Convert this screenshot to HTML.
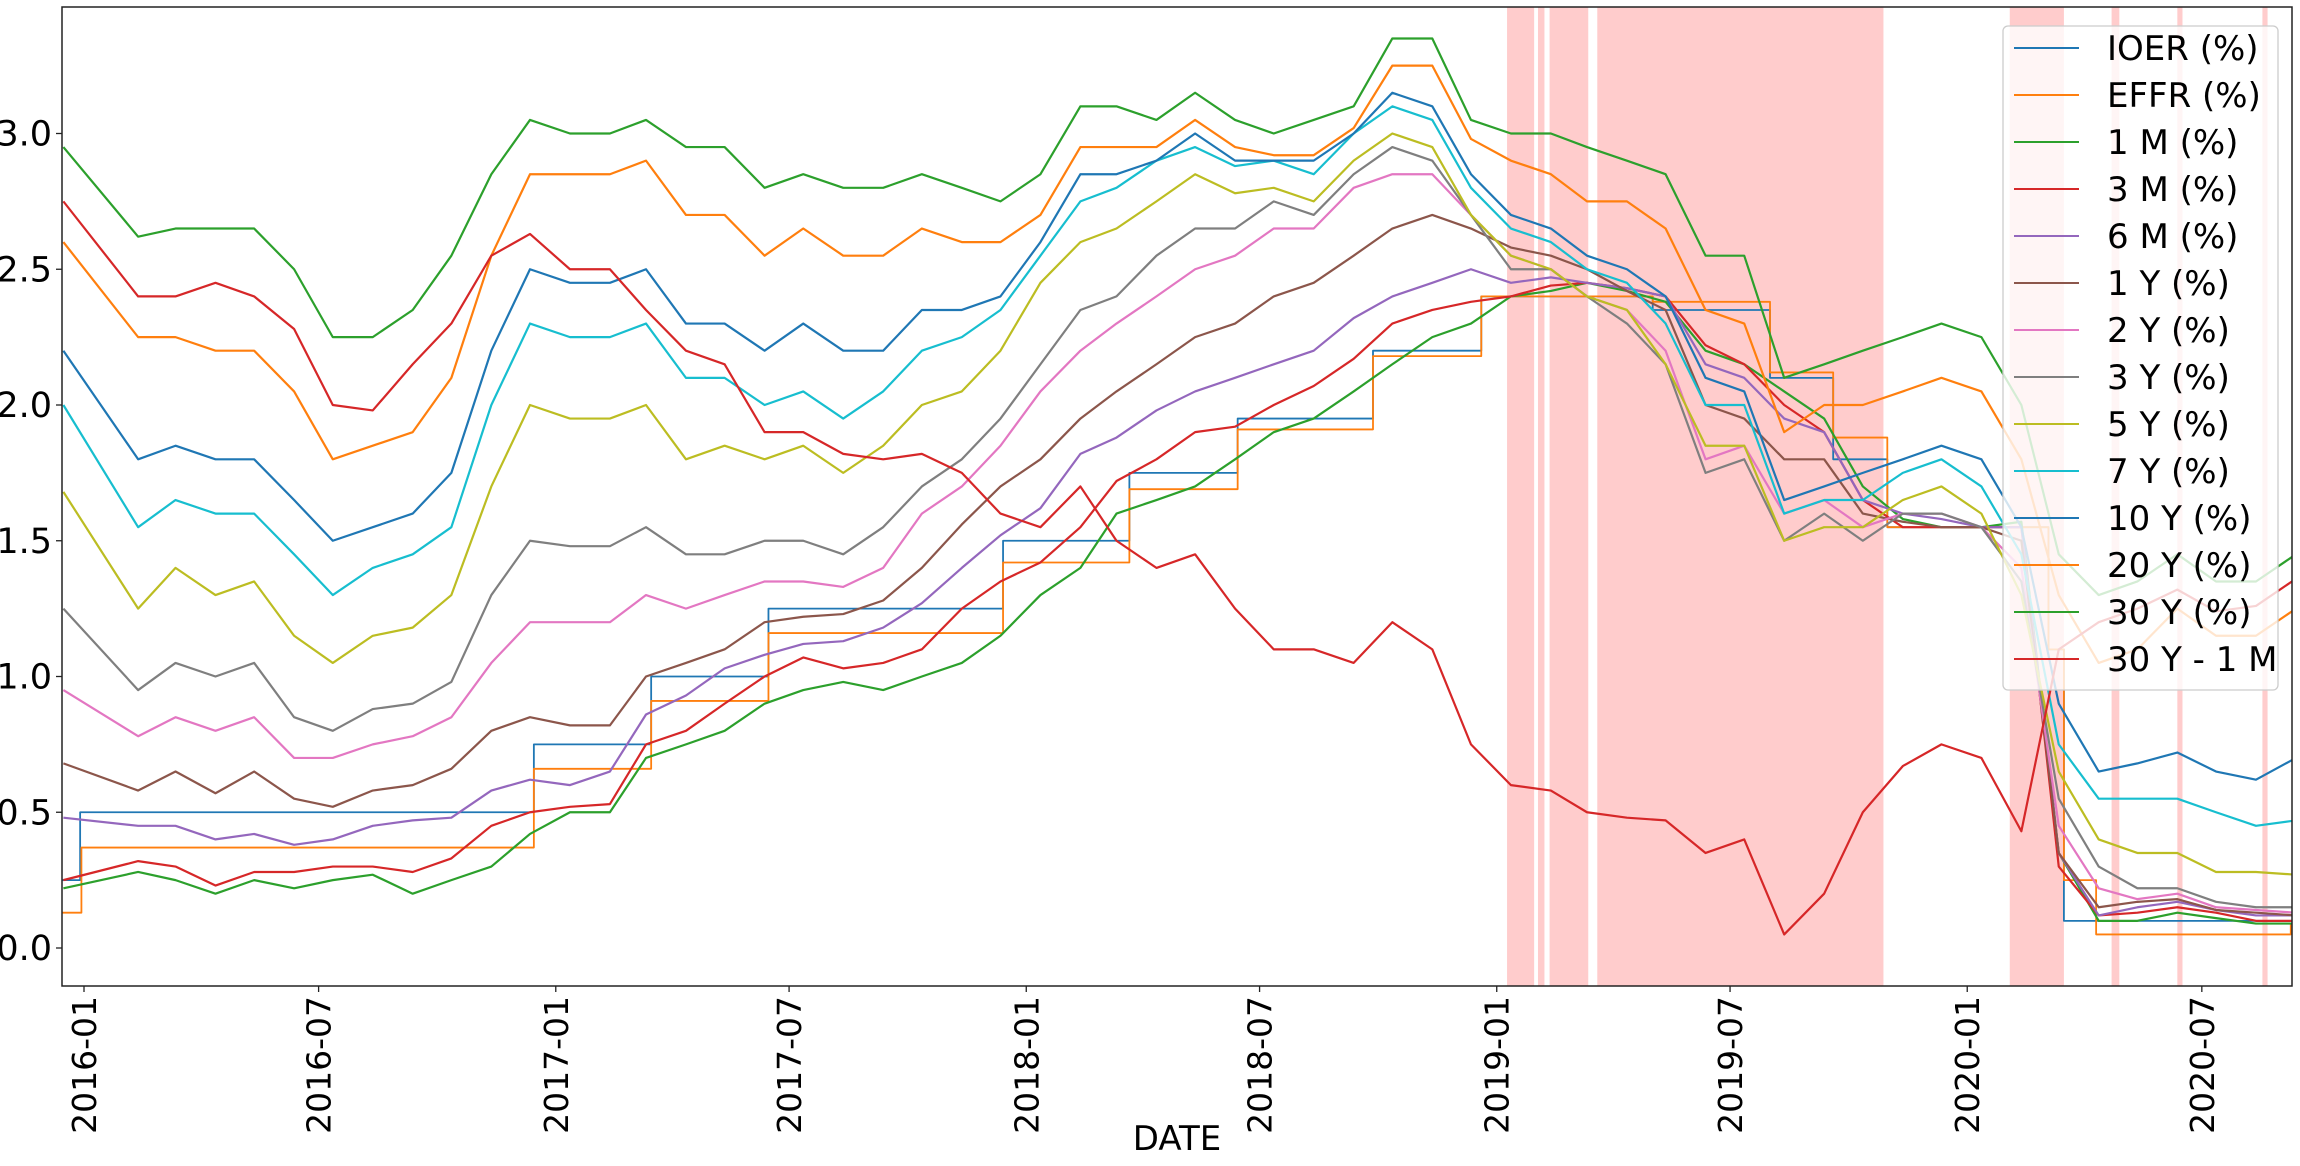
<!DOCTYPE html>
<html><head><meta charset="utf-8">
<style>
html,body{margin:0;padding:0;background:#fff;}
svg{display:block;font-family:"DejaVu Sans","Liberation Sans",sans-serif;}
</style></head>
<body>
<svg id="chart" width="2300" height="1166" viewBox="0 0 2300 1166" xmlns="http://www.w3.org/2000/svg"></svg>
<script>
// ---- data ----
const monthDates = [];
for (let y = 2016; y <= 2020; y++) for (let m = 1; m <= 12; m++) { if (y === 2020 && m > 9) break; monthDates.push(y + '-' + String(m).padStart(2,'0') + '-12'); }
monthDates[0] = "2015-12-16";
const seriesNames = ["IOER (%)","EFFR (%)","1 M (%)","3 M (%)","6 M (%)","1 Y (%)","2 Y (%)","3 Y (%)","5 Y (%)","7 Y (%)","10 Y (%)","20 Y (%)","30 Y (%)","30 Y - 1 M"];
const seriesColors = ["#1f77b4","#ff7f0e","#2ca02c","#d62728","#9467bd","#8c564b","#e377c2","#7f7f7f","#bcbd22","#17becf","#1f77b4","#ff7f0e","#2ca02c","#d62728"];
const ioerDates = ["2015-12-14","2015-12-29","2016-12-15","2017-03-16","2017-06-15","2017-12-14","2018-03-22","2018-06-14","2018-09-27","2018-12-20","2019-05-02","2019-08-01","2019-09-19","2019-10-31","2020-03-04","2020-03-16","2020-09-08"];
const ioerValues = [0.25,0.50,0.75,1.00,1.25,1.50,1.75,1.95,2.20,2.40,2.35,2.10,1.80,1.55,1.10,0.10,0.10];
const effrDates = ["2015-12-14","2015-12-30","2016-12-15","2017-03-16","2017-06-15","2017-12-14","2018-03-22","2018-06-14","2018-09-27","2018-12-20","2019-05-02","2019-08-01","2019-09-19","2019-10-31","2020-03-04","2020-03-16","2020-04-10","2020-09-08"];
const effrValues = [0.13,0.37,0.66,0.91,1.16,1.42,1.69,1.91,2.18,2.40,2.38,2.12,1.88,1.55,1.10,0.25,0.05,0.09];
const m1 = [.22,.28,.25,.20,.25,.22,.25,.27,.20,.25,.30,.42, .50,.50,.70,.75,.80,.90,.95,.98,.95,1.0,1.05,1.15, 1.30,1.40,1.60,1.65,1.70,1.80,1.90,1.95,2.05,2.15,2.25,2.30, 2.40,2.42,2.45,2.42,2.38,2.20,2.15,2.05,1.95,1.70,1.58,1.55, 1.55,1.57,0.35,0.10,0.10,0.13,0.11,0.09,0.09];
const m3 = [.25,.32,.30,.23,.28,.28,.30,.30,.28,.33,.45,.50, .52,.53,.75,.80,.90,1.0,1.07,1.03,1.05,1.10,1.25,1.35, 1.42,1.55,1.72,1.80,1.90,1.92,2.00,2.07,2.17,2.30,2.35,2.38, 2.40,2.44,2.45,2.43,2.40,2.22,2.15,2.00,1.90,1.65,1.55,1.55, 1.55,1.55,0.30,0.12,0.13,0.15,0.13,0.10,0.10];
const m6 = [.48,.45,.45,.40,.42,.38,.40,.45,.47,.48,.58,.62, .60,.65,.86,.93,1.03,1.08,1.12,1.13,1.18,1.27,1.40,1.52, 1.62,1.82,1.88,1.98,2.05,2.10,2.15,2.20,2.32,2.40,2.45,2.50, 2.45,2.47,2.45,2.43,2.40,2.15,2.10,1.95,1.90,1.65,1.60,1.58, 1.55,1.55,0.35,0.12,0.15,0.17,0.14,0.12,0.12];
const y1 = [.68,.58,.65,.57,.65,.55,.52,.58,.60,.66,.80,.85, .82,.82,1.00,1.05,1.10,1.20,1.22,1.23,1.28,1.40,1.56,1.70, 1.80,1.95,2.05,2.15,2.25,2.30,2.40,2.45,2.55,2.65,2.70,2.65, 2.58,2.55,2.50,2.42,2.35,2.00,1.95,1.80,1.80,1.60,1.57,1.55, 1.55,1.50,0.35,0.15,0.17,0.18,0.14,0.13,0.12];
const y2 = [.95,.78,.85,.80,.85,.70,.70,.75,.78,.85,1.05,1.20, 1.20,1.20,1.30,1.25,1.30,1.35,1.35,1.33,1.40,1.60,1.70,1.85, 2.05,2.20,2.30,2.40,2.50,2.55,2.65,2.65,2.80,2.85,2.85,2.70, 2.55,2.50,2.40,2.35,2.20,1.80,1.85,1.60,1.65,1.55,1.60,1.60, 1.55,1.40,0.45,0.22,0.18,0.20,0.15,0.14,0.13];
const y3 = [1.25,.95,1.05,1.00,1.05,.85,.80,.88,.90,.98,1.30,1.50, 1.48,1.48,1.55,1.45,1.45,1.50,1.50,1.45,1.55,1.70,1.80,1.95, 2.15,2.35,2.40,2.55,2.65,2.65,2.75,2.70,2.85,2.95,2.90,2.70, 2.50,2.50,2.40,2.30,2.15,1.75,1.80,1.50,1.60,1.50,1.60,1.60, 1.55,1.35,0.55,0.30,0.22,0.22,0.17,0.15,0.15];
const y5 = [1.68,1.25,1.40,1.30,1.35,1.15,1.05,1.15,1.18,1.30,1.70,2.00, 1.95,1.95,2.00,1.80,1.85,1.80,1.85,1.75,1.85,2.00,2.05,2.20, 2.45,2.60,2.65,2.75,2.85,2.78,2.80,2.75,2.90,3.00,2.95,2.70, 2.55,2.50,2.40,2.35,2.15,1.85,1.85,1.50,1.55,1.55,1.65,1.70, 1.60,1.30,0.65,0.40,0.35,0.35,0.28,0.28,0.27];
const y7 = [2.00,1.55,1.65,1.60,1.60,1.45,1.30,1.40,1.45,1.55,2.00,2.30, 2.25,2.25,2.30,2.10,2.10,2.00,2.05,1.95,2.05,2.20,2.25,2.35, 2.55,2.75,2.80,2.90,2.95,2.88,2.90,2.85,3.00,3.10,3.05,2.80, 2.65,2.60,2.50,2.45,2.30,2.00,2.00,1.60,1.65,1.65,1.75,1.80, 1.70,1.45,0.75,0.55,0.55,0.55,0.50,0.45,0.47];
const y10 = [2.20,1.80,1.85,1.80,1.80,1.65,1.50,1.55,1.60,1.75,2.20,2.50, 2.45,2.45,2.50,2.30,2.30,2.20,2.30,2.20,2.20,2.35,2.35,2.40, 2.60,2.85,2.85,2.90,3.00,2.90,2.90,2.90,3.00,3.15,3.10,2.85, 2.70,2.65,2.55,2.50,2.40,2.10,2.05,1.65,1.70,1.75,1.80,1.85, 1.80,1.55,0.90,0.65,0.68,0.72,0.65,0.62,0.70];
const y20 = [2.60,2.25,2.25,2.20,2.20,2.05,1.80,1.85,1.90,2.10,2.55,2.85, 2.85,2.85,2.90,2.70,2.70,2.55,2.65,2.55,2.55,2.65,2.60,2.60, 2.70,2.95,2.95,2.95,3.05,2.95,2.92,2.92,3.02,3.25,3.25,2.98, 2.90,2.85,2.75,2.75,2.65,2.35,2.30,1.90,2.00,2.00,2.05,2.10, 2.05,1.80,1.30,1.05,1.10,1.25,1.15,1.15,1.25];
const y30 = [2.95,2.62,2.65,2.65,2.65,2.50,2.25,2.25,2.35,2.55,2.85,3.05, 3.00,3.00,3.05,2.95,2.95,2.80,2.85,2.80,2.80,2.85,2.80,2.75, 2.85,3.10,3.10,3.05,3.15,3.05,3.00,3.05,3.10,3.35,3.35,3.05, 3.00,3.00,2.95,2.90,2.85,2.55,2.55,2.10,2.15,2.20,2.25,2.30, 2.25,2.00,1.45,1.30,1.35,1.45,1.35,1.35,1.45];
const spread = [2.75,2.40,2.40,2.45,2.40,2.28,2.00,1.98,2.15,2.30,2.55,2.63, 2.50,2.50,2.35,2.20,2.15,1.90,1.90,1.82,1.80,1.82,1.75,1.60, 1.55,1.70,1.50,1.40,1.45,1.25,1.10,1.10,1.05,1.20,1.10,0.75, 0.60,0.58,0.50,0.48,0.47,0.35,0.40,0.05,0.20,0.50,0.67,0.75, 0.70,0.43,1.10,1.20,1.25,1.32,1.24,1.26,1.36];
const shadeStarts = ["2019-01-09","2019-02-02","2019-02-11","2019-03-20","2020-02-03","2020-04-22","2020-06-12","2020-08-17"];
const shadeEnds   = ["2019-01-30","2019-02-07","2019-03-13","2019-10-28","2020-03-16","2020-04-28","2020-06-16","2020-08-21"];
const yTicks = [0.0,0.5,1.0,1.5,2.0,2.5,3.0];
const yTickLabels = ["0.0","0.5","1.0","1.5","2.0","2.5","3.0"];
const xTicks = ["2016-01-01","2016-07-01","2017-01-01","2017-07-01","2018-01-01","2018-07-01","2019-01-01","2019-07-01","2020-01-01","2020-07-01"];
const xTickLabels = ["2016-01","2016-07","2017-01","2017-07","2018-01","2018-07","2019-01","2019-07","2020-01","2020-07"];

// ---- geometry ----
const L=62,R=2292,T=7,B=986;
const t0=Date.parse("2016-01-01"), x0=84, pxPerDay=1.289;
function X(d){return x0+(Date.parse(d)-t0)/86400000*pxPerDay;}
function Y(v){return 948-v*271.5;}
const NS="http://www.w3.org/2000/svg";
const svg=document.getElementById('chart');
function el(tag,attrs,parent){const e=document.createElementNS(NS,tag);for(const k in attrs)e.setAttribute(k,attrs[k]);(parent||svg).appendChild(e);return e;}

const defs=el('defs',{});
const cp=el('clipPath',{id:'plotclip'},defs);
el('rect',{x:L,y:T,width:R-L,height:B-T},cp);

// shading
const shadeG=el('g',{'clip-path':'url(#plotclip)'});


for(let i=0;i<shadeStarts.length;i++){
  const r=el('rect',{x:X(shadeStarts[i]),y:T,width:X(shadeEnds[i])-X(shadeStarts[i]),height:B-T,fill:'#ffcccc'},shadeG);
  
  
}

// lines
const linesG=el('g',{'clip-path':'url(#plotclip)',fill:'none','stroke-width':2.2,'stroke-linejoin':'round'});
function stepPath(ds,vs){let p='';for(let i=0;i<ds.length;i++){const x=X(ds[i]),y=Y(vs[i]);if(i===0)p+='M'+x+','+y;else{p+='H'+x+'V'+y;}}return p;}
function linePath(vs){return vs.map((v,i)=>(i?'L':'M')+X(monthDates[i])+','+Y(v)).join('');}
const seriesData=[null,null,m1,m3,m6,y1,y2,y3,y5,y7,y10,y20,y30,spread];
seriesNames.forEach((n,i)=>{
  const d = i===0 ? stepPath(ioerDates,ioerValues) : i===1 ? stepPath(effrDates,effrValues) : linePath(seriesData[i]);
  const p=el('path',{d:d,stroke:seriesColors[i],'stroke-width':i<2?1.8:2.2},linesG);
  
  
});

// spines
const frame=el('rect',{x:L,y:T,width:R-L,height:B-T,fill:'none',stroke:'#222','stroke-width':1.5});



// y ticks
yTicks.forEach((v,i)=>{
  el('line',{x1:L-6,x2:L,y1:Y(v),y2:Y(v),stroke:'#222','stroke-width':1.3});
  const t=el('text',{x:L-10,y:Y(v)+12,'text-anchor':'end','font-size':35,fill:'#000'});
  t.textContent=yTickLabels[i];
  
  
});
// x ticks
xTicks.forEach((d,i)=>{
  const x=X(d);
  el('line',{x1:x,x2:x,y1:B,y2:B+6,stroke:'#222','stroke-width':1.3});
  const t=el('text',{x:0,y:0,transform:'translate('+(x+12)+','+(B+10)+') rotate(-90)','text-anchor':'end','font-size':33,fill:'#000'});
  t.textContent=xTickLabels[i];
  
  
});
const xt=el('text',{x:1177,y:1150,'text-anchor':'middle','font-size':34,fill:'#000'});
xt.textContent='DATE';



// legend
const lg=el('g',{});


el('rect',{x:2003,y:26,width:275,height:664,rx:5,fill:'#fff','fill-opacity':0.8,stroke:'#ccc','stroke-width':1.3},lg);
seriesNames.forEach((n,i)=>{
  const y=48+i*47;
  const g=el('g',{},lg);
  
  
  el('line',{x1:2014,x2:2079,y1:y,y2:y,stroke:seriesColors[i],'stroke-width':2},g);
  const t=el('text',{x:2107,y:y+12,'font-size':34,fill:'#000'},g);
  t.textContent=n;
});
</script>
</body></html>
